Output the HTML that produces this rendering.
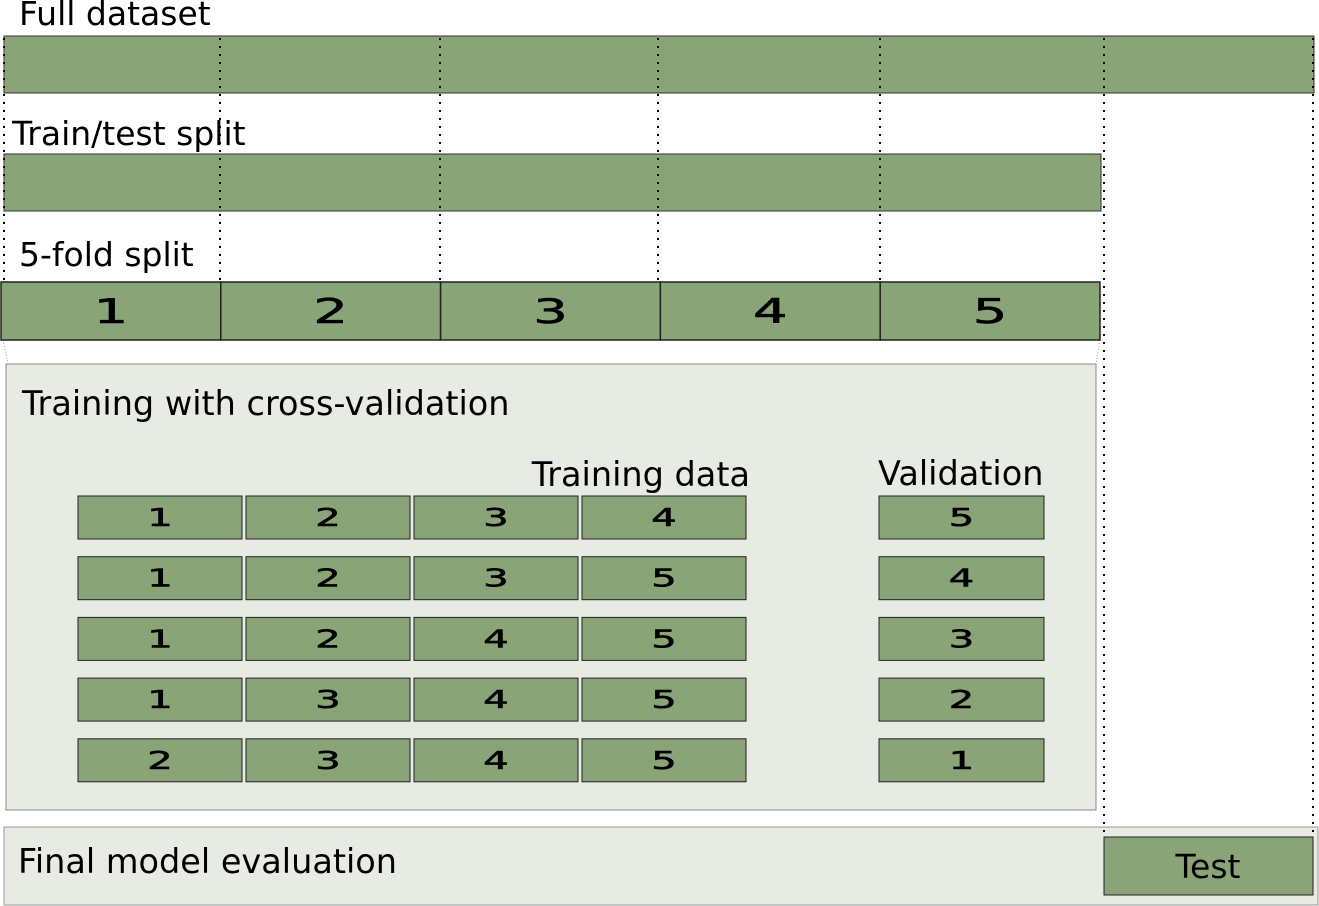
<!DOCTYPE html>
<html><head><meta charset="utf-8"><style>
html,body{margin:0;padding:0;background:#fff}
svg{display:block;font-family:"DejaVu Sans","Liberation Sans",sans-serif}
</style></head><body>
<svg id="s" width="1319" height="906" viewBox="0 0 1319 906">
<g stroke="#999" stroke-width="1" stroke-dasharray="1,2">
  <line x1="3" y1="340" x2="8" y2="363"/>
  <line x1="1100" y1="340" x2="1096" y2="363"/>
</g>
<text x="19" y="25" font-size="33">Full dataset</text>
<rect x="4" y="36" width="1310" height="57" fill="#89a477" stroke="#333"/>
<text x="12" y="145" font-size="33">Train/test split</text>
<rect x="4" y="154" width="1097" height="57" fill="#89a477" stroke="#333"/>
<text x="19" y="266" font-size="33">5-fold split</text>
<g id="folds"></g>
<rect x="6" y="364" width="1090" height="446" fill="#e7ebe4" stroke="#888"/>
<text x="22" y="415" font-size="33.5">Training with cross-validation</text>
<text x="750" y="486" font-size="33.5" text-anchor="end">Training data</text>
<text x="878" y="485" font-size="33.5">Validation</text>
<g id="cv"></g>
<rect x="4" y="827" width="1314" height="78" fill="#e7ebe4" stroke="#999"/>
<text x="18" y="873" font-size="33.5">Final model evaluation</text>
<rect x="1104" y="837" width="209" height="58" fill="#89a477" stroke="#222"/>
<text x="1208" y="878" font-size="33" text-anchor="middle">Test</text>
<g id="dots" stroke="#000" stroke-width="2" stroke-dasharray="2,6" fill="none">
  <line x1="4" y1="38" x2="4" y2="282"/>
  <line x1="220" y1="38" x2="220" y2="282"/>
  <line x1="440" y1="38" x2="440" y2="282"/>
  <line x1="658" y1="38" x2="658" y2="282"/>
  <line x1="880" y1="38" x2="880" y2="282"/>
  <line x1="1104" y1="38" x2="1104" y2="836"/>
  <line x1="1313" y1="38" x2="1313" y2="836"/>
</g>
</svg>
<script>
const foldLabels = [1,2,3,4,5];
const trainRows = [[1,2,3,4],[1,2,3,5],[1,2,4,5],[1,3,4,5],[2,3,4,5]];
const valRows = [5,4,3,2,1];
const NS = "http://www.w3.org/2000/svg";
function mk(tag, attrs, parent){const e=document.createElementNS(NS,tag);for(const k in attrs)e.setAttribute(k,attrs[k]);parent.appendChild(e);return e;}
function digit(parent, cx, by, txt, fs){
  const g=mk('g',{transform:`translate(${cx},${by}) scale(1.6,1)`},parent);
  const t=mk('text',{x:0,y:0,'font-size':fs,'text-anchor':'middle','stroke':'#000','stroke-width':0.6},g);
  t.textContent=txt;
  
  
}
const fg=document.getElementById('folds');
const fx0=1, fw=219.8;
foldLabels.forEach((f,i)=>{
  const r=mk('rect',{x:fx0+i*fw,y:282,width:fw,height:58,fill:'#89a477',stroke:'#222','stroke-width':1.5},fg);
  
  
  digit(fg, fx0+i*fw+fw/2, 323, f, 34);
});
const cg=document.getElementById('cv');
const colX=[78,246,414,582], bw=164, valX=879, rowY0=496, rowStep=60.7, bh=43;
trainRows.forEach((row,ri)=>{
  const y=rowY0+ri*rowStep;
  row.forEach((v,ci)=>{
    const r=mk('rect',{x:colX[ci],y:y,width:bw,height:bh,fill:'#89a477',stroke:'#222'},cg);
    
    
    digit(cg, colX[ci]+bw/2, y+30, v, 25);
  });
  const r=mk('rect',{x:valX,y:y,width:165,height:bh,fill:'#89a477',stroke:'#222'},cg);
  
  
  digit(cg, valX+82.5, y+30, valRows[ri], 25);
});
</script>
</body></html>
